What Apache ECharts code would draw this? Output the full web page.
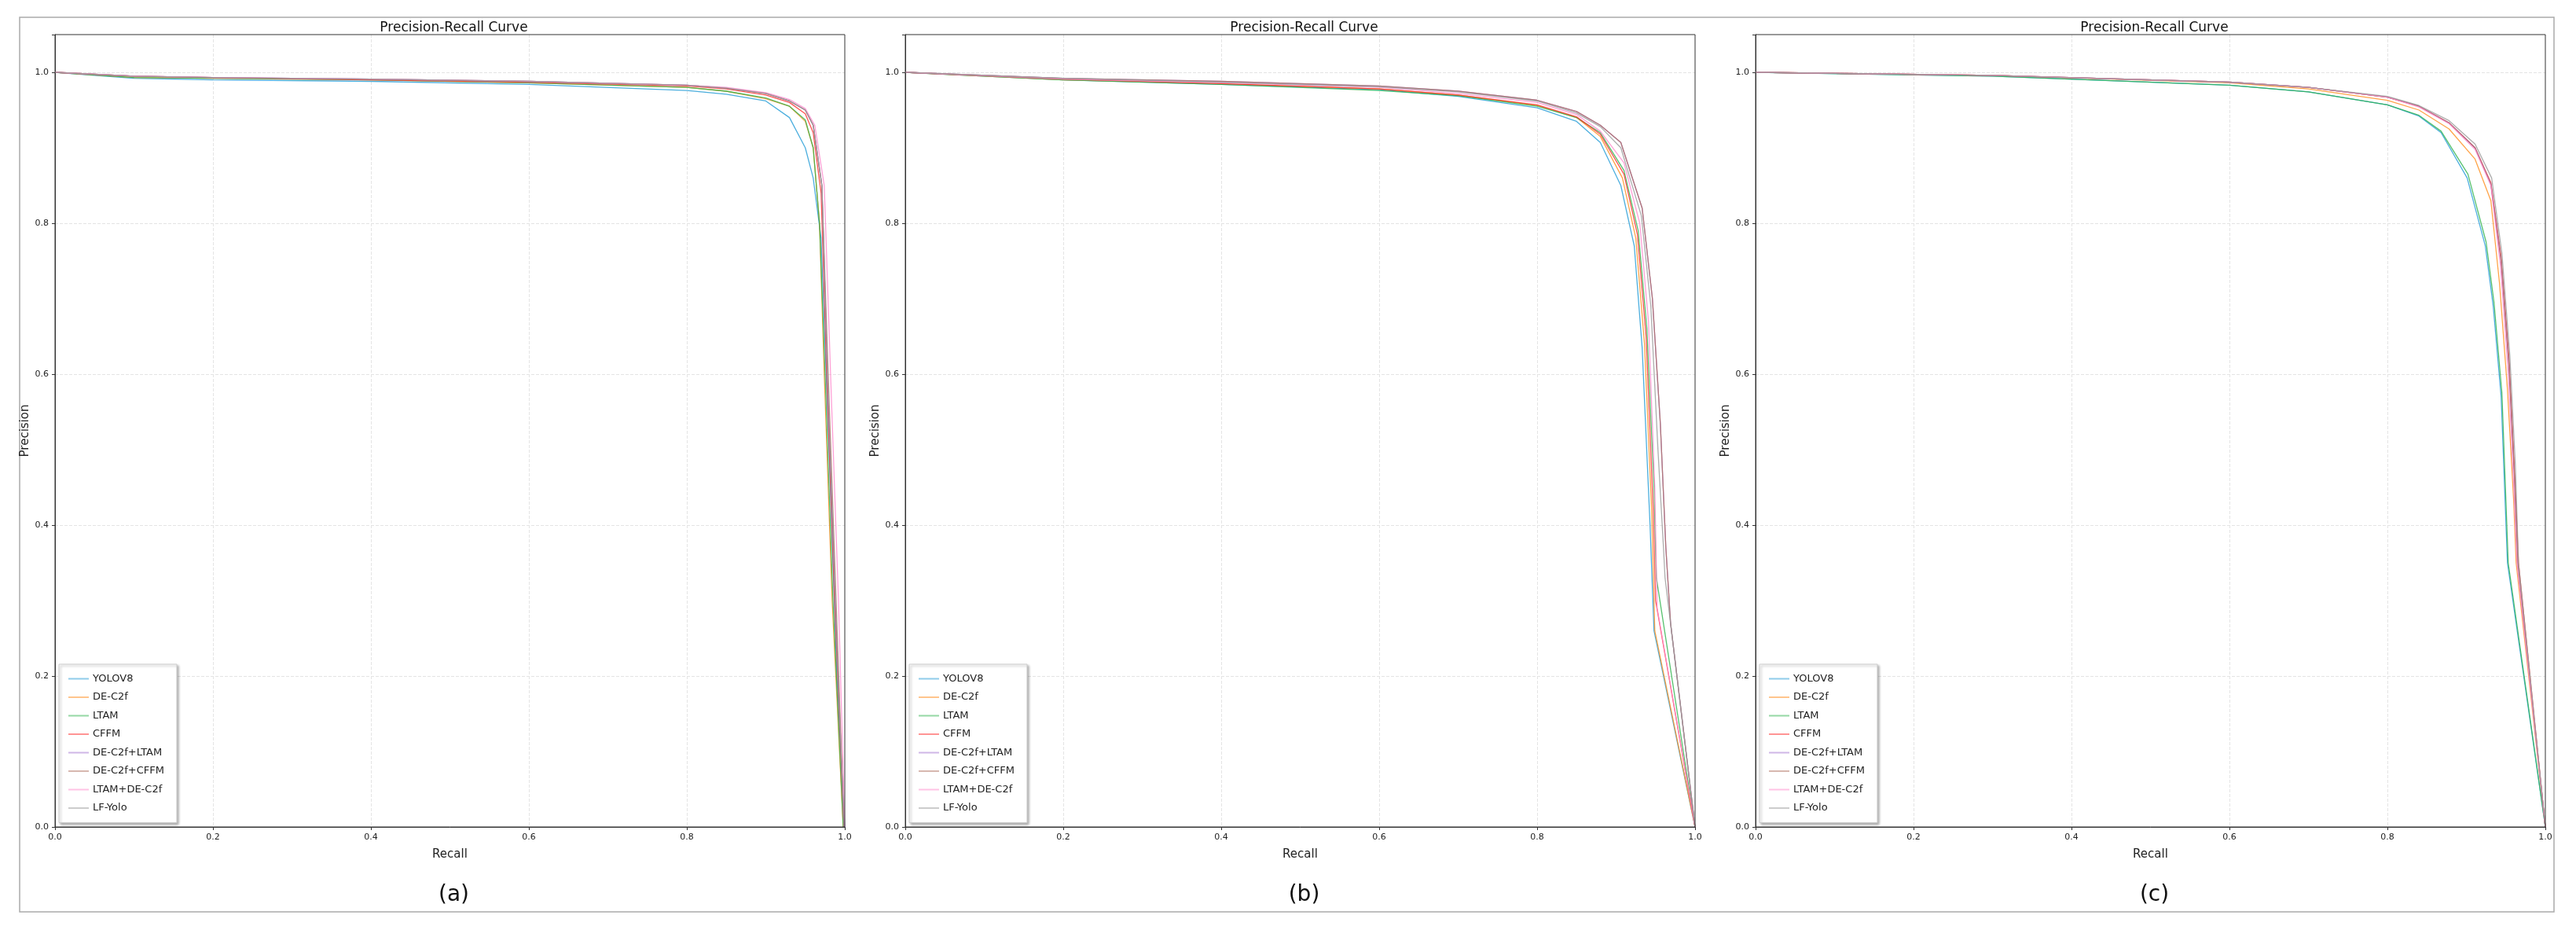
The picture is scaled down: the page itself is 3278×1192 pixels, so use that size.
<!DOCTYPE html>
<html>
<head>
<meta charset="utf-8">
<script src="https://cdn.jsdelivr.net/npm/echarts@6/dist/echarts.min.js"></script>
<style>
  html, body { margin: 0; padding: 0; background: #fff; }
  #chart { width: 3278px; height: 1192px; }
</style>
</head>
<body>
<div id="chart"></div>
<script>
var models = ['YOLOV8', 'DE-C2f', 'LTAM', 'CFFM', 'DE-C2f+LTAM', 'DE-C2f+CFFM', 'LTAM+DE-C2f', 'LF-Yolo'];
var colors = ['#1f9ad6', '#ff8c1a', '#2cb24a', '#ff2a2a', '#a070d0', '#b07060', '#ff88cc', '#999999'];
var captions = ['(a)', '(b)', '(c)'];

// panel (a) recall / precision per model
var aRecall = [
  [0, 0.1, 0.2, 0.4, 0.6, 0.8, 0.85, 0.9, 0.93, 0.95, 0.96, 0.97, 0.98, 0.99, 1.0],
  [0, 0.1, 0.2, 0.4, 0.6, 0.8, 0.85, 0.9, 0.93, 0.95, 0.96, 0.968, 0.974, 0.984, 0.998],
  [0, 0.1, 0.2, 0.4, 0.6, 0.8, 0.85, 0.9, 0.93, 0.95, 0.96, 0.968, 0.975, 0.985, 0.998],
  [0, 0.1, 0.2, 0.4, 0.6, 0.8, 0.85, 0.9, 0.93, 0.95, 0.96, 0.97, 0.977, 0.987, 0.999],
  [0, 0.1, 0.2, 0.4, 0.6, 0.8, 0.85, 0.9, 0.93, 0.95, 0.96, 0.971, 0.978, 0.988, 0.999],
  [0, 0.1, 0.2, 0.4, 0.6, 0.8, 0.85, 0.9, 0.93, 0.95, 0.96, 0.971, 0.979, 0.989, 0.999],
  [0, 0.1, 0.2, 0.4, 0.6, 0.8, 0.85, 0.9, 0.93, 0.95, 0.962, 0.974, 0.982, 0.992, 1.0],
  [0, 0.1, 0.2, 0.4, 0.6, 0.8, 0.85, 0.9, 0.93, 0.95, 0.96, 0.971, 0.978, 0.988, 0.999]
];
var aPrecision = [
  [1, 0.992, 0.99, 0.988, 0.984, 0.976, 0.971, 0.962, 0.94, 0.9, 0.86, 0.78, 0.5, 0.2, 0],
  [1, 0.993, 0.992, 0.99, 0.986, 0.98, 0.975, 0.965, 0.955, 0.935, 0.9, 0.8, 0.6, 0.3, 0],
  [1, 0.993, 0.992, 0.99, 0.986, 0.98, 0.975, 0.966, 0.955, 0.937, 0.9, 0.8, 0.6, 0.3, 0],
  [1, 0.995, 0.993, 0.99, 0.987, 0.982, 0.978, 0.97, 0.96, 0.945, 0.92, 0.84, 0.6, 0.3, 0],
  [1, 0.995, 0.993, 0.991, 0.988, 0.983, 0.979, 0.972, 0.962, 0.95, 0.93, 0.85, 0.6, 0.3, 0],
  [1, 0.995, 0.993, 0.991, 0.988, 0.983, 0.979, 0.972, 0.962, 0.95, 0.93, 0.85, 0.6, 0.3, 0],
  [1, 0.995, 0.993, 0.991, 0.988, 0.983, 0.98, 0.973, 0.964, 0.952, 0.93, 0.85, 0.6, 0.3, 0],
  [1, 0.995, 0.993, 0.991, 0.988, 0.983, 0.979, 0.972, 0.962, 0.95, 0.93, 0.85, 0.6, 0.3, 0]
];

// panel (b)
var bRecall = [
  [0, 0.2, 0.4, 0.6, 0.7, 0.8, 0.85, 0.88, 0.906, 0.923, 0.933, 0.943, 0.948, 1.0],
  [0, 0.2, 0.4, 0.6, 0.7, 0.8, 0.85, 0.88, 0.908, 0.925, 0.936, 0.945, 0.949, 1.0],
  [0, 0.2, 0.4, 0.6, 0.7, 0.8, 0.85, 0.88, 0.91, 0.928, 0.939, 0.948, 0.951, 1.0],
  [0, 0.2, 0.4, 0.6, 0.7, 0.8, 0.85, 0.88, 0.91, 0.927, 0.938, 0.947, 0.95, 1.0],
  [0, 0.2, 0.4, 0.6, 0.7, 0.8, 0.85, 0.88, 0.906, 0.933, 0.946, 0.956, 0.963, 0.969, 1.0],
  [0, 0.2, 0.4, 0.6, 0.7, 0.8, 0.85, 0.88, 0.906, 0.933, 0.946, 0.956, 0.963, 0.969, 1.0],
  [0, 0.2, 0.4, 0.6, 0.7, 0.8, 0.85, 0.88, 0.91, 0.93, 0.941, 0.949, 0.952, 1.0],
  [0, 0.2, 0.4, 0.6, 0.7, 0.8, 0.85, 0.88, 0.906, 0.932, 0.944, 0.953, 0.96, 0.962, 1.0]
];
var bPrecision = [
  [1, 0.99, 0.984, 0.977, 0.968, 0.953, 0.935, 0.907, 0.85, 0.77, 0.635, 0.4, 0.26, 0],
  [1, 0.99, 0.985, 0.978, 0.97, 0.956, 0.94, 0.915, 0.86, 0.78, 0.64, 0.42, 0.26, 0],
  [1, 0.99, 0.984, 0.976, 0.969, 0.955, 0.94, 0.92, 0.87, 0.79, 0.66, 0.45, 0.33, 0],
  [1, 0.991, 0.985, 0.978, 0.97, 0.957, 0.941, 0.918, 0.865, 0.785, 0.65, 0.42, 0.3, 0],
  [1, 0.992, 0.988, 0.982, 0.975, 0.963, 0.948, 0.93, 0.907, 0.82, 0.7, 0.535, 0.37, 0.27, 0],
  [1, 0.992, 0.988, 0.982, 0.975, 0.963, 0.948, 0.93, 0.907, 0.82, 0.7, 0.535, 0.37, 0.27, 0],
  [1, 0.991, 0.986, 0.98, 0.972, 0.96, 0.944, 0.922, 0.88, 0.8, 0.67, 0.45, 0.29, 0],
  [1, 0.992, 0.987, 0.981, 0.974, 0.962, 0.946, 0.928, 0.9, 0.81, 0.69, 0.5, 0.37, 0.33, 0]
];

// panel (c)
var cRecall = [
  [0, 0.3, 0.6, 0.7, 0.8, 0.84, 0.868, 0.901, 0.924, 0.934, 0.944, 0.952, 1.0],
  [0, 0.3, 0.6, 0.7, 0.8, 0.84, 0.878, 0.911, 0.931, 0.942, 0.952, 0.96, 0.963, 1.0],
  [0, 0.3, 0.6, 0.7, 0.8, 0.84, 0.868, 0.902, 0.925, 0.935, 0.945, 0.953, 1.0],
  [0, 0.3, 0.6, 0.7, 0.8, 0.84, 0.878, 0.911, 0.931, 0.944, 0.954, 0.961, 0.966, 1.0],
  [0, 0.3, 0.6, 0.7, 0.8, 0.84, 0.878, 0.911, 0.931, 0.944, 0.954, 0.961, 0.965, 1.0],
  [0, 0.3, 0.6, 0.7, 0.8, 0.84, 0.878, 0.911, 0.931, 0.944, 0.954, 0.961, 0.965, 1.0],
  [0, 0.3, 0.6, 0.7, 0.8, 0.84, 0.878, 0.911, 0.931, 0.943, 0.953, 0.96, 0.964, 1.0],
  [0, 0.3, 0.6, 0.7, 0.8, 0.84, 0.878, 0.911, 0.932, 0.945, 0.955, 0.962, 0.966, 1.0]
];
var cPrecision = [
  [1, 0.995, 0.983, 0.974, 0.957, 0.942, 0.92, 0.86, 0.77, 0.69, 0.57, 0.35, 0],
  [1, 0.996, 0.986, 0.978, 0.963, 0.95, 0.925, 0.885, 0.83, 0.72, 0.58, 0.43, 0.35, 0],
  [1, 0.995, 0.983, 0.974, 0.957, 0.943, 0.922, 0.865, 0.775, 0.695, 0.575, 0.35, 0],
  [1, 0.996, 0.987, 0.98, 0.967, 0.955, 0.933, 0.9, 0.854, 0.755, 0.62, 0.47, 0.35, 0],
  [1, 0.996, 0.987, 0.98, 0.967, 0.955, 0.933, 0.9, 0.852, 0.75, 0.61, 0.46, 0.35, 0],
  [1, 0.996, 0.987, 0.98, 0.967, 0.955, 0.933, 0.9, 0.852, 0.75, 0.61, 0.46, 0.35, 0],
  [1, 0.996, 0.987, 0.98, 0.967, 0.954, 0.932, 0.898, 0.85, 0.745, 0.6, 0.45, 0.35, 0],
  [1, 0.996, 0.987, 0.98, 0.968, 0.956, 0.936, 0.905, 0.86, 0.76, 0.625, 0.48, 0.35, 0]
];

var panels = [[aRecall, aPrecision], [bRecall, bPrecision], [cRecall, cPrecision]];
var lefts = [70, 1152, 2234];
var gridTop = 44, gridW = 1005, gridH = 1008;

var grids = [], xAxes = [], yAxes = [], series = [], titles = [], legends = [], graphics = [];
var font = 'DejaVu Sans';

panels.forEach(function(p, k) {
    grids.push({ left: lefts[k], top: gridTop, width: gridW, height: gridH, show: true, borderColor: '#333', borderWidth: 1, z: 5 });
    xAxes.push({
        type: 'value', gridIndex: k, min: 0, max: 1, interval: 0.2,
        name: 'Recall', nameLocation: 'middle', nameGap: 28,
        nameTextStyle: { fontFamily: font, fontSize: 15, color: '#222' },
        axisLine: { lineStyle: { color: '#333' } },
        axisTick: { lineStyle: { color: '#333' }, length: 4 },
        axisLabel: { fontFamily: font, fontSize: 11, color: '#222', formatter: function(v) { return v.toFixed(1); } },
        splitLine: { showMaxLine: false, showMinLine: false, lineStyle: { color: '#e4e4e4', type: 'dashed' } }
    });
    yAxes.push({
        type: 'value', gridIndex: k, min: 0, max: 1.05, interval: 0.2,
        name: 'Precision', nameLocation: 'middle', nameGap: 30,
        nameTextStyle: { fontFamily: font, fontSize: 15, color: '#222' },
        axisLine: { lineStyle: { color: '#333' } },
        axisTick: { lineStyle: { color: '#333' }, length: 4 },
        axisLabel: { fontFamily: font, fontSize: 11, color: '#222', formatter: function(v) { return v > 1.01 ? '' : v.toFixed(1); } },
        splitLine: { showMaxLine: false, showMinLine: false, lineStyle: { color: '#e4e4e4', type: 'dashed' } }
    });
    titles.push({
        text: 'Precision-Recall Curve', left: lefts[k] + gridW / 2, top: 22, textAlign: 'center',
        textStyle: { fontFamily: font, fontSize: 17, fontWeight: 'normal', color: '#111' }
    });
    titles.push({
        text: captions[k], left: lefts[k] + gridW / 2, top: 1120, textAlign: 'center',
        textStyle: { fontFamily: font, fontSize: 28, fontWeight: 'normal', color: '#111' }
    });
    legends.push({
        data: models, left: lefts[k] + 5, top: 845, orient: 'vertical', itemGap: 10.5,
        itemWidth: 26, itemHeight: 2, icon: 'rect',
        padding: [12, 16, 12, 12], borderColor: '#ccc', borderWidth: 1, backgroundColor: '#fff',
        shadowColor: 'rgba(0,0,0,0.3)', shadowBlur: 3, shadowOffsetX: 2, shadowOffsetY: 2,
        textStyle: { fontFamily: font, fontSize: 13, color: '#222' }
    });
    models.forEach(function(m, i) {
        series.push({
            name: m, type: 'line', xAxisIndex: k, yAxisIndex: k, showSymbol: false, z: 2,
            data: p[0][i].map(function(r, j) { return [r, p[1][i][j]]; }),
            lineStyle: { width: 1.3, color: colors[i], opacity: 0.8 },
            itemStyle: { color: colors[i], opacity: 0.5 }
        });
    });
});

graphics.push({ type: 'rect', shape: { x: 25, y: 22, width: 3225, height: 1138 }, style: { fill: 'none', stroke: '#aaa', lineWidth: 1.5 }, z: -1 });

var myChart = echarts.init(document.getElementById('chart'));
myChart.setOption({
    animation: false,
    backgroundColor: '#fff',
    color: colors,
    title: titles,
    legend: legends,
    grid: grids,
    xAxis: xAxes,
    yAxis: yAxes,
    graphic: graphics,
    series: series
});
</script>
</body>
</html>
